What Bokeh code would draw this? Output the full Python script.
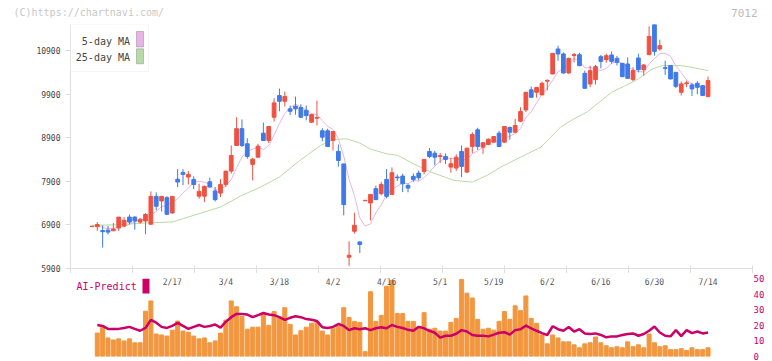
import numpy as np
import pandas as pd
from bokeh.plotting import figure
from bokeh.models import (Range1d, FixedTicker, ColumnDataSource, Label, LabelSet,
                          BoxAnnotation)
from bokeh.layouts import column, row
from bokeh.embed import file_html
from bokeh.resources import INLINE
from bokeh.core.properties import value

# ---------------- data ----------------
opens = [6860, 6860, 6770, 6780, 6765, 6830, 6875, 7080, 7080, 6965,
         6990, 6915, 7555, 7450, 7525, 7175, 7950, 8105, 8000, 7945,
         7560, 7560, 7890, 7680, 7630, 7830, 8135, 8724, 9110, 8762,
         8290, 8456, 9006, 8838, 9372, 9869, 9738, 9564, 9625, 9595,
         9530, 9257, 9350, 9060, 9060, 8840, 8586, 8300, 6160, 6754,
         6509, 7455, 7403, 7732, 7617, 7945, 7601, 8000, 8021, 7807,
         8014, 8089, 8128, 8586, 8547, 8470, 8471, 8227, 8204, 8586,
         8112, 8701, 9083, 8685, 8746, 8800, 9006, 8800, 9136, 9028,
         9280, 9540, 10000, 9945, 9884, 10200, 10365, 10938, 10824, 10388,
         10790, 10807, 10379, 10136, 10235, 10761, 10693, 10800, 10723, 10608,
         10594, 10235, 10731, 10464, 10807, 11500, 10938, 10510, 10556, 10402,
         9945, 10140, 10113, 10150, 10097, 9846]
highs = [6875, 6965, 6890, 6880, 6945, 7080, 7080, 7140, 7100, 7060,
         7170, 7670, 7645, 7555, 7560, 7560, 8180, 8180, 8135, 8015,
         7845, 7800, 7985, 7770, 7950, 8140, 8724, 9372, 9320, 8890,
         8441, 8760, 9250, 9170, 9807, 10030, 9960, 9640, 9846, 9670,
         9640, 9450, 9754, 9120, 9110, 9050, 8746, 8305, 6525, 7182,
         6525, 7470, 7601, 7800, 7890, 8180, 8220, 8060, 8075, 7850,
         8080, 8150, 8410, 8669, 8600, 8550, 8540, 8441, 8520, 8724,
         8670, 9028, 9129, 8800, 8880, 8935, 9060, 9170, 9159, 9335,
         9601, 9945, 10075, 10060, 10190, 10235, 10838, 11014, 10860, 10740,
         10846, 10850, 10440, 10556, 10571, 10800, 10830, 10880, 10780, 10620,
         10746, 10520, 10830, 10594, 11456, 11505, 11151, 10670, 10570, 10410,
         10190, 10210, 10160, 10200, 10110, 10304]
lows = [6860, 6765, 6380, 6680, 6760, 6760, 6850, 6910, 6790, 6930,
        6685, 6910, 7235, 7210, 7130, 7160, 7770, 7815, 7830, 7725,
        7500, 7425, 7755, 7440, 7540, 7770, 8080, 8720, 8690, 8420,
        7922, 8450, 8838, 8780, 9273, 9509, 9620, 9420, 9430, 9360,
        9300, 9250, 9181, 8820, 8690, 8609, 8236, 7120, 5960, 6701,
        6257, 7455, 7006, 7480, 7580, 7510, 7601, 7910, 7654, 7650,
        7890, 7920, 8060, 8430, 8266, 8320, 8300, 8098, 8140, 7998,
        8090, 8547, 8624, 8533, 8730, 8790, 8701, 8790, 8854, 9010,
        9260, 9490, 9820, 9820, 9880, 9983, 10360, 10670, 10370, 10370,
        10631, 10550, 10030, 10059, 10120, 10494, 10620, 10600, 10560, 10290,
        10250, 10200, 10400, 10326, 10800, 10785, 10900, 10343, 10240, 10040,
        9870, 10060, 9860, 9900, 9860, 9830]
closes = [6870, 6910, 6745, 6735, 6805, 7080, 7005, 6965, 6990, 7030,
          7140, 7555, 7330, 7555, 7145, 7555, 7885, 8060, 8060, 7830,
          7670, 7785, 7770, 7480, 7830, 8135, 8494, 9110, 8724, 8472,
          8410, 8708, 8838, 9159, 9701, 9738, 9850, 9509, 9564, 9372,
          9410, 9433, 9365, 8914, 8700, 9044, 8380, 7366, 6204, 6892,
          6450, 7465, 7601, 7480, 7830, 7556, 8098, 7980, 7846, 7746,
          7945, 7983, 8403, 8471, 8456, 8490, 8403, 8303, 8456, 8243,
          8662, 8975, 8701, 8785, 8868, 8929, 8701, 9159, 9028, 9181,
          9502, 9945, 9830, 10052, 10150, 10220, 10838, 10824, 10388, 10723,
          10810, 10555, 10036, 10441, 10533, 10654, 10784, 10654, 10631, 10303,
          10265, 10441, 10464, 10571, 11227, 10883, 11014, 10494, 10251, 10082,
          10136, 10160, 10022, 10059, 9869, 10212]

# 25-day moving average (position in trading days, price)
ma25_day = [0, 5, 10, 15, 19, 24, 28, 31.5, 35, 39, 42.7, 45, 47.5, 50, 52, 55, 57,
            60, 63.3, 67.6, 71, 73.8, 76.3, 80, 83.8, 87.5, 90, 92.5, 94.7, 97,
            99.6, 102, 104.6, 106.5, 110, 112, 115]
ma25_val = [6890, 6905, 6945, 6967, 7120, 7311, 7579, 7769, 8000, 8400, 8724, 8860,
            8877, 8780, 8640, 8533, 8500, 8304, 8112, 7922, 7883, 8040, 8227, 8456,
            8685, 9150, 9335, 9500, 9716, 9945, 10098, 10251, 10480, 10556, 10556,
            10517, 10441]

# AI-Predict panel (from the 2nd trading day on)
ai_bars = [15.0, 19.4, 11.9, 10.6, 11.3, 10.0, 11.3, 8.8, 8.8, 29.0,
           35.6, 14.4, 13.8, 13.1, 16.9, 22.7, 16.3, 15.6, 13.1, 11.3,
           11.9, 8.8, 10.0, 15.0, 23.3, 35.6, 31.9, 25.6, 17.5, 18.8,
           18.8, 27.5, 20.0, 28.8, 25.0, 31.3, 20.6, 13.8, 16.5, 18.8,
           21.3, 22.5, 16.3, 13.8, 18.1, 19.4, 31.3, 25.0, 22.5, 21.9,
           3.1, 41.5, 22.5, 26.3, 45.0, 48.8, 27.5, 27.5, 22.5, 22.5,
           18.8, 28.1, 17.5, 18.1, 16.3, 16.3, 21.9, 24.4, 49.4, 40.6,
           37.5, 23.8, 17.5, 18.1, 16.9, 22.5, 28.8, 23.8, 32.5, 29.4,
           38.8, 24.4, 21.3, 13.8, 8.1, 13.8, 11.9, 9.4, 9.4, 7.5,
           5.6, 8.1, 8.8, 12.5, 8.8, 6.9, 5.6, 6.3, 5.6, 9.4,
           6.3, 7.5, 5.6, 14.4, 8.8, 6.3, 6.9, 4.4, 4.4, 5.0,
           3.8, 5.6, 4.4, 4.4, 5.6]
ai_line = [20.2, 19.6, 17.7, 17.7, 17.7, 18.3, 19.0, 17.7, 16.5, 18.3,
           23.5, 21.7, 19.0, 18.3, 19.6, 21.5, 19.6, 17.7, 19.0, 20.2,
           19.0, 19.6, 20.5, 18.5, 22.3, 25.2, 27.3, 27.3, 26.9, 25.2,
           26.5, 27.9, 26.9, 26.5, 25.2, 23.5, 24.8, 25.8, 25.2, 24.0,
           23.5, 22.7, 18.8, 18.3, 19.0, 20.8, 19.6, 16.9, 18.1, 17.5,
           18.1, 16.9, 18.1, 18.8, 18.1, 20.2, 19.0, 18.3, 17.1, 16.5,
           19.0, 18.1, 16.5, 15.2, 12.1, 13.3, 13.3, 14.6, 16.9, 16.0,
           13.8, 13.3, 13.3, 12.9, 14.0, 15.2, 15.6, 14.0, 16.9, 17.5,
           19.8, 18.1, 16.5, 15.0, 13.8, 19.4, 17.5, 16.5, 18.9, 16.0,
           17.5, 14.8, 14.4, 14.8, 13.8, 12.3, 12.9, 12.9, 13.8, 14.4,
           14.8, 13.3, 14.4, 16.5, 19.2, 15.4, 13.3, 12.9, 16.9, 13.1,
           16.9, 15.0, 16.0, 14.8, 15.4]

date_labels = ["2/17", "3/4", "3/18", "4/2", "4/16", "5/1", "5/19", "6/2", "6/16", "6/30", "7/14"]
date_label_day = [15, 25, 35, 45, 55, 65, 75, 85, 95, 105, 115]
price_ticks = [5900, 6900, 7900, 8900, 9900, 10900]
ai_ticks = [0, 10, 20, 30, 40, 50]
legend_names = ["5-day MA", "25-day MA"]
ticker_symbol = "7012"
credit = "(C)https://chartnavi.com/"

# ---------------- styling ----------------
UP = "#EF5240"
DOWN = "#3F7AE9"
PINK = "#E8B4E8"
GREEN = "#B6DBA6"
CRIMSON = "#CC0066"
ORANGE = "#F2973F"
AXIS = "#DDDDDD"
MONO = "DejaVu Sans Mono"
W = 772

n = len(closes)
day = np.arange(n)
o = np.array(opens, float); c = np.array(closes, float)
src = ColumnDataSource(dict(
    x=day, open=o, close=c, high=highs, low=lows,
    top=np.maximum(o, c), bottom=np.minimum(o, c),
    color=[UP if cc >= oo else DOWN for oo, cc in zip(o, c)],
    ma5=pd.Series(c).rolling(5, min_periods=1).mean().values,
))

xr = Range1d(-4.0, 123.3)
ticks_x = [xr.start + k * (xr.end - xr.start) / 11 for k in range(12)]

# ---------------- header strip ----------------
pH = figure(frame_width=W, frame_height=24, x_range=Range1d(0, W), y_range=Range1d(0, 24),
            output_backend="svg", toolbar_location=None, min_border=0,
            min_border_left=0, min_border_right=0, min_border_top=0, min_border_bottom=0,
            x_axis_location=None, y_axis_location=None)
pH.grid.visible = False
pH.outline_line_color = None
pH.add_layout(Label(x=13, y=12, x_units="screen", y_units="screen", text=credit,
                    text_align="left", text_baseline="middle", text_font=MONO,
                    text_font_size="10px", text_color="#C8C8C8"))
pH.add_layout(Label(x=757, y=12, x_units="screen", y_units="screen", text=ticker_symbol,
                    text_align="right", text_baseline="middle", text_font=MONO,
                    text_font_size="11px", text_color="#BBBBBB"))

# ---------------- price chart ----------------
pA = figure(frame_width=682, frame_height=244, x_range=xr, y_range=Range1d(5900, 11500),
            output_backend="svg", toolbar_location=None,
            min_border_left=70, min_border_right=20, min_border_top=0, min_border_bottom=5)
pA.grid.visible = False
pA.outline_line_color = None

pA.yaxis.ticker = FixedTicker(ticks=price_ticks)
pA.yaxis.axis_line_color = AXIS
pA.yaxis.major_tick_line_color = AXIS
pA.yaxis.major_tick_in = 0
pA.yaxis.major_tick_out = 5
pA.yaxis.minor_tick_line_color = None
pA.yaxis.major_label_text_font = MONO
pA.yaxis.major_label_text_font_size = "8px"
pA.yaxis.major_label_text_color = "#444444"
pA.yaxis.major_label_standoff = 5

# the bottom axis carries only tick marks (date texts sit in the panel below)
pA.xaxis.ticker = FixedTicker(ticks=[], minor_ticks=ticks_x)
pA.xaxis.axis_line_color = AXIS
pA.xaxis.minor_tick_line_color = AXIS
pA.xaxis.minor_tick_in = 3
pA.xaxis.minor_tick_out = 5
pA.xaxis.major_tick_line_color = None

pA.line("x", "ma5", source=src, color=PINK, line_width=1)
pA.line(ma25_day, ma25_val, color=GREEN, line_width=1)
pA.segment(x0="x", y0="low", x1="x", y1="high", source=src, color="color", line_width=1)
pA.vbar(x="x", top="top", bottom="bottom", width=0.7, source=src,
        fill_color="color", line_color="color", line_width=1)

# legend (text then swatch, as in the reference)
pA.add_layout(BoxAnnotation(left=0, right=78, top=244, bottom=197,
                            left_units="screen", right_units="screen",
                            top_units="screen", bottom_units="screen",
                            fill_color="white", fill_alpha=1, line_color=AXIS, line_width=1))
for name, col, ty, sw_top, sw_bot in [(legend_names[0], PINK, 227.5, 237, 221.5),
                                      (legend_names[1], GREEN, 210.8, 219.7, 204.7)]:
    pA.add_layout(Label(x=59.5, y=ty, x_units="screen", y_units="screen", text=name,
                        text_align="right", text_baseline="middle", text_font=MONO,
                        text_font_size="10px", text_color="#444444"))
    pA.add_layout(BoxAnnotation(left=66, right=73, top=sw_top, bottom=sw_bot,
                                left_units="screen", right_units="screen",
                                top_units="screen", bottom_units="screen",
                                fill_color=col, fill_alpha=1, line_color="#555555", line_width=1))

# ---------------- AI-Predict panel ----------------
pB = figure(frame_width=682, frame_height=78, x_range=xr, y_range=Range1d(0, 50),
            output_backend="svg", toolbar_location=None,
            x_axis_location=None, y_axis_location="right",
            min_border_left=70, min_border_right=20, min_border_top=5, min_border_bottom=5)
pB.grid.visible = False
pB.outline_line_color = None
pB.yaxis.ticker = FixedTicker(ticks=ai_ticks)
pB.yaxis.axis_line_color = None
pB.yaxis.major_tick_line_color = None
pB.yaxis.minor_tick_line_color = None
pB.yaxis.major_tick_out = 0
pB.yaxis.major_tick_in = 0
pB.yaxis.major_label_standoff = 1
pB.yaxis.major_label_text_font = MONO
pB.yaxis.major_label_text_font_size = "9px"
pB.yaxis.major_label_text_color = CRIMSON

ai_src = ColumnDataSource(dict(x=day[1:], bar=ai_bars, line=ai_line))
pB.vbar(x="x", top="bar", bottom=0, width=0.75, source=ai_src, color=ORANGE)
pB.line("x", "line", source=ai_src, color=CRIMSON, line_width=2.5)

lab_src = ColumnDataSource(dict(x=date_label_day, text=date_labels, y=[74] * len(date_labels)))
pB.add_layout(LabelSet(x="x", y="y", text="text", source=lab_src, y_units="screen",
                       text_align="center", text_baseline="middle",
                       text_font=value(MONO), text_font_size=value("8px"),
                       text_color="#555555"))
pB.add_layout(Label(x=6, y=69.7, x_units="screen", y_units="screen", text="AI-Predict",
                    text_align="left", text_baseline="middle", text_font=MONO,
                    text_font_size="10px", text_color=CRIMSON))
pB.add_layout(BoxAnnotation(left=72, right=79, top=78, bottom=63,
                            left_units="screen", right_units="screen",
                            top_units="screen", bottom_units="screen",
                            fill_color=CRIMSON, fill_alpha=1, line_color=None))

layout = column(row(pH), column(pA, pB, spacing=0), spacing=0)
open("out.html", "w").write(file_html(layout, INLINE))
